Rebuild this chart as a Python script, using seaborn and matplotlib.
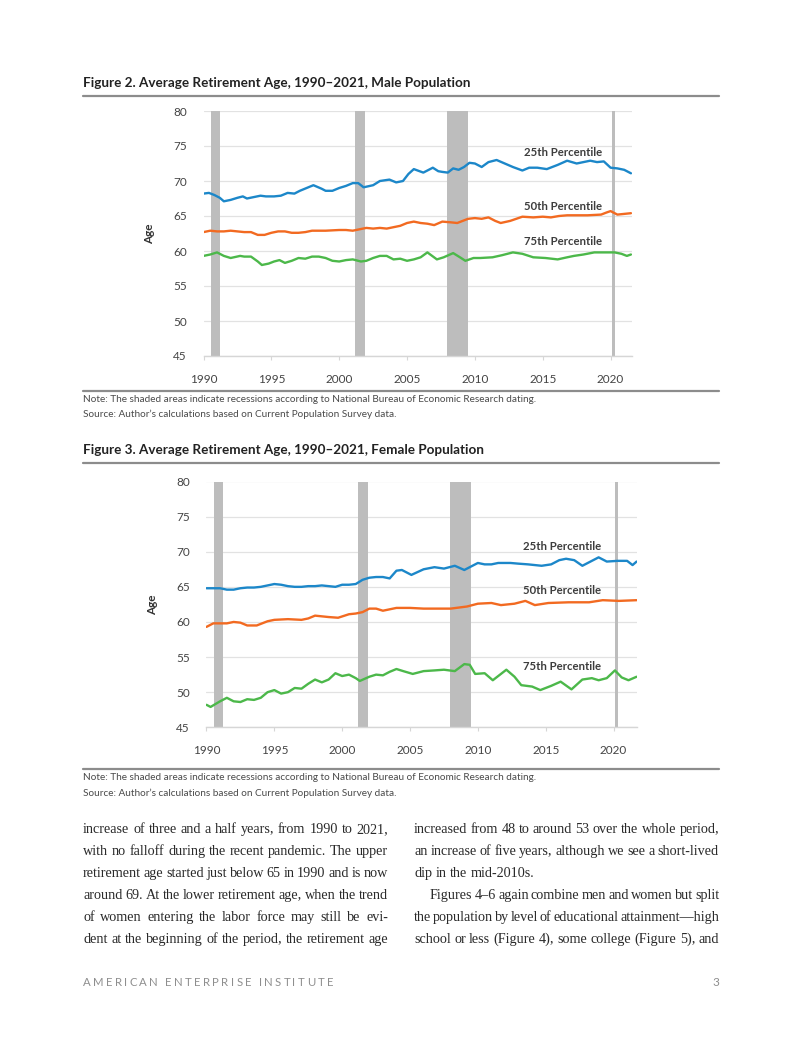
import numpy as np
import pandas as pd
import matplotlib
matplotlib.use("Agg")
import matplotlib.pyplot as plt
import seaborn as sns

# ---- data ----
male_p25_years = [1990.0, 1990.4, 1990.8, 1991.2, 1991.5, 1992.0, 1992.5, 1992.9, 1993.2, 1993.7,
                  1994.2, 1994.6, 1995.2, 1995.7, 1996.2, 1996.7, 1997.1, 1997.6, 1998.1, 1998.7,
                  1999.0, 1999.5, 2000.0, 2000.5, 2001.0, 2001.4, 2001.8, 2002.5, 2003.0, 2003.7,
                  2004.2, 2004.7, 2005.1, 2005.5, 2006.2, 2006.9, 2007.3, 2007.6, 2008.0, 2008.4,
                  2008.8, 2009.2, 2009.6, 2010.0, 2010.5, 2011.0, 2011.6, 2012.2, 2012.8, 2013.5,
                  2014.0, 2014.6, 2015.3, 2016.1, 2016.8, 2017.5, 2018.0, 2018.5, 2019.0, 2019.5,
                  2020.0, 2020.5, 2021.0, 2021.5]
male_p25 = [68.2, 68.3, 68.0, 67.6, 67.1, 67.3, 67.6, 67.8, 67.5, 67.7,
            67.9, 67.8, 67.8, 67.9, 68.3, 68.2, 68.6, 69.0, 69.4, 68.9,
            68.6, 68.6, 69.0, 69.3, 69.7, 69.7, 69.1, 69.4, 70.0, 70.2,
            69.8, 70.0, 71.0, 71.7, 71.2, 71.9, 71.4, 71.3, 71.2, 71.8,
            71.6, 72.0, 72.6, 72.5, 72.0, 72.7, 73.0, 72.5, 72.0, 71.5,
            71.9, 71.9, 71.7, 72.3, 72.9, 72.5, 72.7, 72.9, 72.7, 72.8,
            71.9, 71.8, 71.6, 71.1]

male_p50_years = [1990.0, 1990.5, 1991.0, 1991.5, 1992.0, 1992.5, 1993.0, 1993.5, 1994.0, 1994.5,
                  1995.0, 1995.5, 1996.0, 1996.5, 1997.0, 1997.5, 1998.0, 1999.0, 2000.0, 2000.5,
                  2001.0, 2001.5, 2002.0, 2002.5, 2003.0, 2003.5, 2004.0, 2004.5, 2005.0, 2005.5,
                  2006.0, 2006.5, 2007.0, 2007.6, 2008.2, 2008.7, 2009.5, 2010.0, 2010.5, 2011.0,
                  2011.5, 2011.9, 2012.6, 2013.5, 2014.3, 2015.0, 2015.6, 2016.2, 2016.8, 2017.5,
                  2018.3, 2019.3, 2019.7, 2020.0, 2020.5, 2021.0, 2021.5]
male_p50 = [62.7, 62.9, 62.8, 62.8, 62.9, 62.8, 62.7, 62.7, 62.3, 62.3,
            62.6, 62.8, 62.8, 62.6, 62.6, 62.7, 62.9, 62.9, 63.0, 63.0,
            62.9, 63.1, 63.3, 63.2, 63.3, 63.2, 63.4, 63.6, 64.0, 64.2,
            64.0, 63.9, 63.7, 64.2, 64.1, 64.0, 64.6, 64.7, 64.6, 64.8,
            64.3, 64.0, 64.3, 64.9, 64.8, 64.9, 64.8, 65.0, 65.1, 65.1,
            65.1, 65.2, 65.5, 65.7, 65.2, 65.3, 65.4]

male_p75_years = [1990.0, 1990.5, 1991.0, 1991.5, 1992.0, 1992.7, 1993.0, 1993.5, 1994.0, 1994.3,
                  1994.8, 1995.2, 1995.6, 1996.0, 1996.5, 1997.0, 1997.5, 1998.0, 1998.5, 1999.0,
                  1999.5, 2000.0, 2000.5, 2001.0, 2001.6, 2002.0, 2002.5, 2003.0, 2003.5, 2004.0,
                  2004.5, 2005.0, 2005.5, 2006.0, 2006.5, 2007.2, 2007.7, 2008.4, 2008.9, 2009.3,
                  2009.9, 2010.4, 2011.3, 2012.0, 2012.8, 2013.5, 2014.3, 2015.2, 2016.1, 2016.8,
                  2017.3, 2018.0, 2018.8, 2019.5, 2020.3, 2020.8, 2021.2, 2021.5]
male_p75 = [59.3, 59.5, 59.8, 59.3, 59.0, 59.3, 59.2, 59.2, 58.5, 58.0,
            58.2, 58.5, 58.7, 58.3, 58.6, 59.0, 58.9, 59.2, 59.2, 59.0,
            58.6, 58.5, 58.7, 58.8, 58.5, 58.6, 59.0, 59.3, 59.3, 58.8,
            58.9, 58.6, 58.8, 59.1, 59.8, 58.8, 59.1, 59.7, 59.1, 58.6,
            59.0, 59.0, 59.1, 59.4, 59.8, 59.6, 59.1, 59.0, 58.8, 59.1,
            59.3, 59.5, 59.8, 59.8, 59.8, 59.6, 59.3, 59.5]

female_p25_years = [1990.0, 1990.5, 1991.0, 1991.5, 1992.0, 1992.5, 1993.0, 1993.5, 1994.0, 1994.5,
                    1995.0, 1995.5, 1996.0, 1996.5, 1997.0, 1997.5, 1998.0, 1998.5, 1999.0, 1999.5,
                    2000.0, 2000.5, 2001.0, 2001.5, 2002.0, 2002.5, 2003.0, 2003.5, 2004.0, 2004.4,
                    2005.1, 2006.0, 2006.8, 2007.5, 2008.3, 2009.0, 2009.5, 2010.0, 2010.5, 2011.0,
                    2011.5, 2012.4, 2013.0, 2013.7, 2014.7, 2015.4, 2016.0, 2016.5, 2017.1, 2017.7,
                    2018.3, 2018.9, 2019.5, 2020.3, 2021.0, 2021.4, 2021.7]
female_p25 = [64.8, 64.8, 64.8, 64.6, 64.6, 64.8, 64.9, 64.9, 65.0, 65.2,
              65.4, 65.3, 65.1, 65.0, 65.0, 65.1, 65.1, 65.2, 65.1, 65.0,
              65.3, 65.3, 65.4, 66.0, 66.3, 66.4, 66.4, 66.2, 67.3, 67.4,
              66.7, 67.5, 67.8, 67.6, 68.0, 67.4, 67.9, 68.4, 68.2, 68.2,
              68.4, 68.4, 68.3, 68.2, 68.0, 68.2, 68.8, 69.0, 68.8, 68.0,
              68.6, 69.2, 68.6, 68.7, 68.7, 68.1, 68.6]

female_p50_years = [1990.0, 1990.5, 1991.0, 1991.5, 1992.0, 1992.5, 1993.0, 1993.7, 1994.5, 1995.0,
                    1996.0, 1997.0, 1997.5, 1998.0, 1998.5, 1999.0, 1999.7, 2000.5, 2001.0, 2001.5,
                    2002.0, 2002.5, 2003.0, 2003.5, 2004.0, 2005.0, 2006.0, 2007.0, 2008.0, 2009.2,
                    2010.0, 2011.0, 2011.7, 2012.7, 2013.5, 2014.2, 2015.2, 2016.7, 2018.2, 2019.2,
                    2020.4, 2021.7]
female_p50 = [59.3, 59.8, 59.8, 59.8, 60.0, 59.9, 59.5, 59.5, 60.1, 60.3,
              60.4, 60.3, 60.5, 60.9, 60.8, 60.7, 60.6, 61.1, 61.2, 61.4,
              61.9, 61.9, 61.6, 61.8, 62.0, 62.0, 61.9, 61.9, 61.9, 62.2,
              62.6, 62.7, 62.4, 62.6, 63.0, 62.4, 62.7, 62.8, 62.8, 63.1,
              63.0, 63.1]

female_p75_years = [1990.0, 1990.3, 1991.0, 1991.5, 1992.0, 1992.5, 1993.0, 1993.5, 1994.0, 1994.5,
                    1995.0, 1995.5, 1996.0, 1996.5, 1997.0, 1997.5, 1998.0, 1998.5, 1999.0, 1999.5,
                    2000.0, 2000.5, 2001.0, 2001.3, 2002.0, 2002.5, 2003.0, 2003.5, 2004.0, 2004.5,
                    2005.2, 2006.0, 2006.8, 2007.5, 2008.3, 2009.0, 2009.4, 2009.8, 2010.5, 2011.1,
                    2012.1, 2012.7, 2013.2, 2014.0, 2014.6, 2015.4, 2016.1, 2016.9, 2017.7, 2018.4,
                    2018.9, 2019.5, 2020.1, 2020.6, 2021.1, 2021.7]
female_p75 = [48.2, 47.9, 48.7, 49.2, 48.7, 48.6, 49.0, 48.9, 49.2, 50.0,
              50.3, 49.8, 50.0, 50.6, 50.5, 51.2, 51.8, 51.4, 51.8, 52.7,
              52.3, 52.5, 52.0, 51.6, 52.2, 52.5, 52.4, 52.9, 53.3, 53.0,
              52.6, 53.0, 53.1, 53.2, 53.0, 54.0, 53.9, 52.6, 52.7, 51.7,
              53.2, 52.2, 51.0, 50.8, 50.3, 50.9, 51.5, 50.4, 51.8, 52.0,
              51.7, 52.0, 53.1, 52.1, 51.7, 52.2]

# NBER recessions (start, end) in fractional years
recession_start = [1990.58, 2001.17, 2007.95, 2020.12]
recession_end = [1991.25, 2001.9, 2009.5, 2020.33]

percentiles = ["25th Percentile", "50th Percentile", "75th Percentile"]
colors = ["#1c87c9", "#f26a21", "#4cb84a"]

male_label_pos = [(2016.5, 74.0), (2016.5, 66.4), (2016.5, 61.3)]
female_label_pos = [(2016.2, 70.8), (2016.2, 64.5), (2016.2, 53.6)]

note_text = "Note: The shaded areas indicate recessions according to National Bureau of Economic Research dating."
source_text = "Source: Author\u2019s calculations based on Current Population Survey data."

left_col = [
    "increase of three and a half years, from 1990 to 2021,",
    "with no falloff during the recent pandemic. The upper",
    "retirement age started just below 65 in 1990 and is now",
    "around 69. At the lower retirement age, when the trend",
    "of women entering the labor force may still be evi-",
    "dent at the beginning of the period, the retirement age",
]
right_col = [
    "increased from 48 to around 53 over the whole period,",
    "an increase of five years, although we see a short-lived",
    "dip in the mid-2010s.",
    "Figures 4\u20136 again combine men and women but split",
    "the population by level of educational attainment\u2014high",
    "school or less (Figure 4), some college (Figure 5), and",
]

W, H = 802, 1037

sns.set_theme(style="white")
plt.rcParams["font.family"] = ["Lato", "DejaVu Sans"]

fig = plt.figure(figsize=(W / 100, H / 100), dpi=100)
fig.patch.set_facecolor("white")


def fx(px):
    return px / W


def fy(py):
    return 1 - py / H


def make_long(series):
    frames = []
    for name, xs, ys in series:
        frames.append(pd.DataFrame({"year": xs, "age": ys, "pct": name}))
    return pd.concat(frames, ignore_index=True)


def draw_chart(rect, series, label_pos, xmax):
    ax = fig.add_axes(rect)
    for s, e in zip(recession_start, recession_end):
        ax.axvspan(s, e, color="#bdbdbd", lw=0, zorder=1)
    df = make_long(series)
    sns.lineplot(data=df, x="year", y="age", hue="pct", palette=colors,
                 hue_order=percentiles, lw=1.7, legend=False, ax=ax, zorder=3)
    ax.set_xlim(1990, xmax)
    ax.set_ylim(45, 80)
    ax.set_yticks(range(45, 81, 5))
    ax.set_xticks(range(1990, 2021, 5))
    ax.grid(axis="y", color="#e2e2e2", lw=0.9, zorder=0)
    ax.grid(axis="x", visible=False)
    for side in ["left", "right", "top"]:
        ax.spines[side].set_visible(False)
    ax.spines["bottom"].set_color("#d6d6d6")
    ax.spines["bottom"].set_linewidth(1.0)
    ax.tick_params(axis="x", length=3, width=0.8, color="#d6d6d6", pad=10,
                   labelsize=8.5, labelcolor="#444444", direction="out", bottom=True)
    ax.tick_params(axis="y", length=0, pad=12, labelsize=8.5, labelcolor="#444444")
    ax.set_xlabel("")
    ax.set_ylabel("Age", fontsize=8.5, fontweight="bold", color="#333333")
    ax.yaxis.set_label_coords(-0.113, 0.5)
    for name, (x, y) in zip(percentiles, label_pos):
        ax.text(x, y, name, ha="center", va="center", fontsize=8.2,
                fontweight="bold", color="#3d3d3d", zorder=4)
    return ax


male = [(percentiles[0], male_p25_years, male_p25),
        (percentiles[1], male_p50_years, male_p50),
        (percentiles[2], male_p75_years, male_p75)]
female = [(percentiles[0], female_p25_years, female_p25),
          (percentiles[1], female_p50_years, female_p50),
          (percentiles[2], female_p75_years, female_p75)]

draw_chart([fx(203.5), fy(356), fx(632.3 - 203.5), (356 - 111) / H], male,
           male_label_pos, 2021.6)
draw_chart([fx(206.5), fy(727.3), fx(637.3 - 206.5), (727.3 - 481.5) / H], female,
           female_label_pos, 2021.75)

# ---- page furniture: titles, rules, notes ----
def rule(py):
    fig.add_artist(plt.Line2D([fx(83), fx(719)], [fy(py), fy(py)], color="#8c8c8c", lw=1.6))


title_kw = dict(fontsize=9.7, fontweight="bold", color="#222222", va="center", ha="left")
note_kw = dict(fontsize=7.2, color="#4a4a4a", va="center", ha="left")

fig.text(fx(83), fy(83), "Figure 2. Average Retirement Age, 1990\u20132021, Male Population", **title_kw)
rule(96)
rule(391)
fig.text(fx(83), fy(400), note_text, **note_kw)
fig.text(fx(83), fy(414), source_text, **note_kw)

fig.text(fx(83), fy(450), "Figure 3. Average Retirement Age, 1990\u20132021, Female Population", **title_kw)
rule(463)
rule(769)
fig.text(fx(83), fy(778), note_text, **note_kw)
fig.text(fx(83), fy(793), source_text, **note_kw)

# ---- body text in two justified columns ----
renderer = fig.canvas.get_renderer()
body_kw = dict(fontsize=10.2, color="#2a2a2a", family="Liberation Serif", va="baseline", ha="left")


def text_width(s, kw):
    t = fig.text(0, 0, s, **kw)
    wd = t.get_window_extent(renderer).width
    t.remove()
    return wd


space_width = text_width("a a", body_kw) - text_width("aa", body_kw)


def place_line(text, x0, x1, py, justify=True):
    words = text.split(" ")
    widths = [text_width(w, body_kw) for w in words]
    total = sum(widths)
    if justify and len(words) > 1:
        gap = (x1 - x0 - total) / (len(words) - 1)
    else:
        gap = space_width
    x = x0
    for w, wd in zip(words, widths):
        fig.text(fx(x), fy(py), w, **body_kw)
        x += wd + gap


line_y = [833, 855, 877, 899, 921, 943]
for i, txt in enumerate(left_col):
    place_line(txt, 83, 388, line_y[i])
for i, txt in enumerate(right_col):
    x0 = 430 if i == 3 else 414
    place_line(txt, x0, 719, line_y[i], justify=(i != 2))

# ---- footer with letter spacing ----
footer = "AMERICAN ENTERPRISE INSTITUTE"
foot_kw = dict(fontsize=8.2, color="#8e8e8e", va="center", ha="left")
char_w = [text_width(c, foot_kw) if c != " " else 0 for c in footer]
space_w = 3.0
track = (333 - 83 - sum(char_w) - space_w * footer.count(" ")) / (len(footer) - 1)
x = 83
for c, wd in zip(footer, char_w):
    if c != " ":
        fig.text(fx(x), fy(983), c, **foot_kw)
    x += wd + track + (space_w if c == " " else 0)

fig.text(fx(719), fy(983), "3", fontsize=8.5, color="#8e8e8e", va="center", ha="right")

fig.savefig("out.png", dpi=100, facecolor="white")
